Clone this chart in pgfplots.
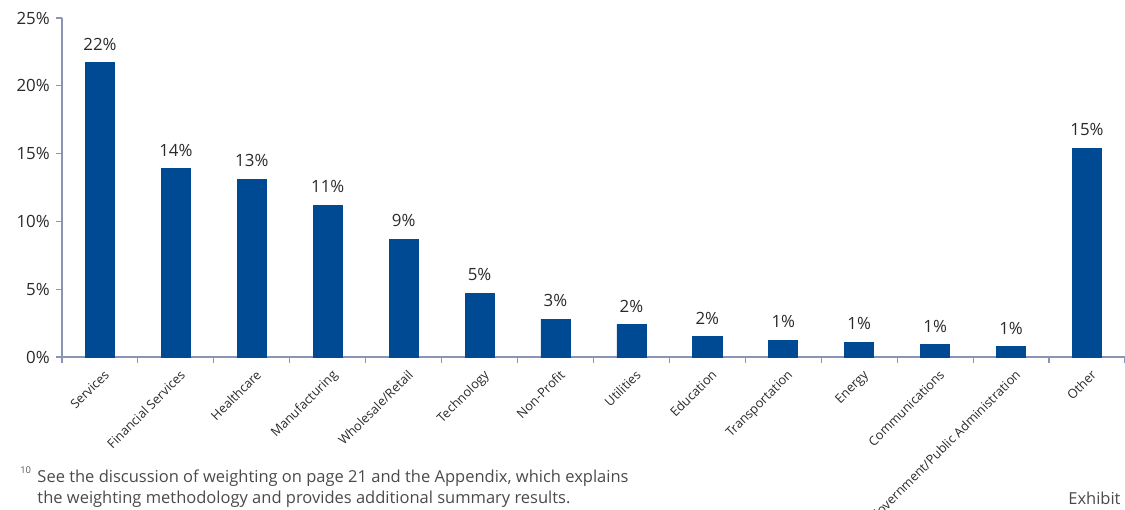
\documentclass[border=0pt]{standalone}
\usepackage{fontspec}
\setmainfont{Open Sans}
\usepackage{pgfplots}
\pgfplotsset{compat=1.18}
\definecolor{barblue}{HTML}{004A93}
\definecolor{axisgray}{HTML}{8C94B4}
\definecolor{txt}{HTML}{2A2A2A}
\begin{document}
\begin{tikzpicture}[x=1pt,y=1pt]
% picture frame = 1125 x 510 px (0.5333 pt per px), origin at the axis corner
\useasboundingbox (-33.07,-81.6) rectangle (566.93,190.4);
\begin{axis}[
 at={(0,0)}, anchor=south west,
 scale only axis,
 width=566.9pt, height=180.8pt,
 ymin=0, ymax=25,
 xmin=-0.5, xmax=13.5,
 axis lines*=left,
 axis line style={axisgray, line width=0.6pt},
 tick style={axisgray, line width=0.6pt},
 tick align=outside,
 ytick={0,5,...,25},
 yticklabel={\pgfmathprintnumber{\tick}\%},
 yticklabel style={font=\fontsize{9}{10}\selectfont, text=txt},
 /pgf/number format/assume math mode=true,
 major tick length=3pt,
 xtick={0,...,13},
 major x tick style={draw=none},
 minor xtick={-0.5,0.5,...,13.5},
 minor tick length=3pt,
 xticklabels={Services,Financial Services,Healthcare,Manufacturing,Wholesale/Retail,Technology,Non-Profit,Utilities,Education,Transportation,Energy,Communications,Government/Public Administration,Other},
 xticklabel style={rotate=45, anchor=north east, font=\fontsize{6.8}{7}\selectfont, text=txt, inner sep=1pt, xshift=0pt, yshift=-2.5pt},
 ybar, bar width=15.5pt,
 nodes near coords={\pgfmathprintnumber[fixed,precision=0]{\pgfplotspointmeta}\%},
 nodes near coords style={font=\fontsize{9}{10}\selectfont, text=txt, yshift=3pt},
 clip=false,
]
\addplot[fill=barblue, draw=barblue] coordinates {
 (0,21.7) (1,13.9) (2,13.1) (3,11.2) (4,8.7) (5,4.7) (6,2.8)
 (7,2.4) (8,1.5) (9,1.25) (10,1.1) (11,0.9) (12,0.75) (13,15.4)
};
\end{axis}
\node[anchor=base west, inner sep=0pt, font=\fontsize{5}{6}\selectfont, text=txt!80] at (-22.4,-62) {10};
\node[anchor=base west, inner sep=0pt, font=\fontsize{8.8}{10}\selectfont, text=txt!85] at (-13.3,-66.7) {See the discussion of weighting on page 21 and the Appendix, which explains};
\node[anchor=base west, inner sep=0pt, font=\fontsize{8.8}{10}\selectfont, text=txt!85] at (-13.3,-78.0) {the weighting methodology and provides additional summary results.};
\node[anchor=base west, inner sep=0pt, font=\fontsize{8.8}{10}\selectfont, text=txt!85] at (536.5,-78.9) {Exhibit 9};
\end{tikzpicture}
\end{document}
